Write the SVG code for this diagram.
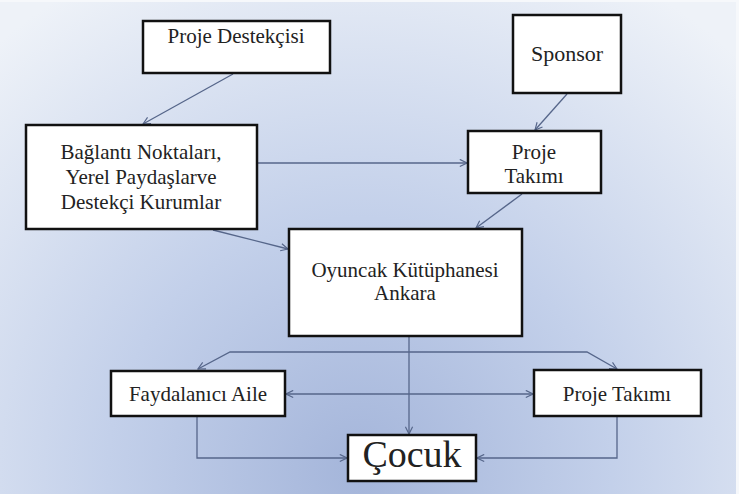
<svg xmlns="http://www.w3.org/2000/svg" width="739" height="494" viewBox="0 0 739 494">
<style>
.box{fill:#ffffff;stroke:#111111;stroke-width:2.5}
.t{font-family:"Liberation Serif","DejaVu Serif",serif;font-size:21px;fill:#222222;text-anchor:middle}
.c{fill:none;stroke:#56668a;stroke-width:1.3}
</style>
<defs>
<radialGradient id="bg" gradientUnits="userSpaceOnUse" cx="360" cy="470" r="560">
<stop offset="0" stop-color="#a4b5da"/>
<stop offset="0.45" stop-color="#c3d0ea"/>
<stop offset="1" stop-color="#eef2f8"/>
</radialGradient>
<marker id="a" viewBox="0 0 10 10" refX="9" refY="5" markerWidth="9" markerHeight="9" markerUnits="userSpaceOnUse" orient="auto-start-reverse">
<path d="M1,1 L9,5 L1,9" fill="none" stroke="#56668a" stroke-width="1.3"/>
</marker>
</defs>
<rect x="0" y="0" width="739" height="494" fill="url(#bg)"/>
<rect x="0" y="0" width="739" height="2" fill="#f6f8fb"/>
<rect x="736" y="0" width="3" height="494" fill="#f6f8fb"/>

<g id="connectors">
<line class="c" x1="233" y1="74" x2="143" y2="124" marker-end="url(#a)"/>
<line class="c" x1="567" y1="94" x2="535" y2="130" marker-end="url(#a)"/>
<line class="c" x1="258" y1="163" x2="467" y2="163" marker-end="url(#a)"/>
<line class="c" x1="522" y1="194" x2="476" y2="228" marker-end="url(#a)"/>
<line class="c" x1="213" y1="230" x2="288" y2="249" marker-end="url(#a)"/>
<line class="c" x1="409" y1="337" x2="409" y2="434" marker-end="url(#a)"/>
<polyline class="c" points="198,369 230,352 587,352 617,369" marker-start="url(#a)" marker-end="url(#a)"/>
<line class="c" x1="286" y1="394" x2="533" y2="394" marker-start="url(#a)" marker-end="url(#a)"/>
<polyline class="c" points="197,417 197,458 347,458" marker-end="url(#a)"/>
<polyline class="c" points="617,417 617,458 477,458" marker-end="url(#a)"/>
</g>

<g id="proje-destekcisi">
<rect class="box" x="143" y="21" width="187" height="52"/>
<text class="t" x="236" y="43">Proje Destekçisi</text>
</g>
<g id="sponsor">
<rect class="box" x="513" y="15" width="108" height="78"/>
<text class="t" x="567" y="61" style="font-size:22px">Sponsor</text>
</g>
<g id="baglanti">
<rect class="box" x="26" y="125" width="231" height="104"/>
<text class="t" x="141" y="159">Bağlantı Noktaları,</text>
<text class="t" x="141" y="184">Yerel Paydaşlarve</text>
<text class="t" x="141" y="209">Destekçi Kurumlar</text>
</g>
<g id="proje-takimi-ust">
<rect class="box" x="468" y="131" width="133" height="62"/>
<text class="t" x="534" y="159">Proje</text>
<text class="t" x="534" y="183">Takımı</text>
</g>
<g id="oyuncak">
<rect class="box" x="289" y="229" width="233" height="107"/>
<text class="t" x="405" y="277">Oyuncak Kütüphanesi</text>
<text class="t" x="405" y="300">Ankara</text>
</g>
<g id="faydalanici">
<rect class="box" x="111" y="371" width="174" height="45"/>
<text class="t" x="198" y="401">Faydalanıcı Aile</text>
</g>
<g id="proje-takimi-alt">
<rect class="box" x="534" y="370" width="167" height="46"/>
<text class="t" x="617" y="401">Proje Takımı</text>
</g>
<g id="cocuk">
<rect class="box" x="348" y="435" width="128" height="46"/>
<text class="t" x="412" y="467" style="font-size:38px">Çocuk</text>
</g>
</svg>
